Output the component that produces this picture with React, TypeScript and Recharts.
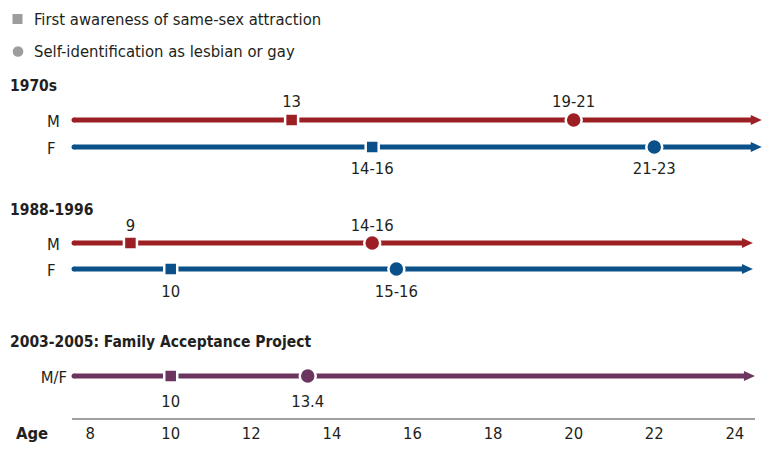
import { ScatterChart, Scatter, XAxis, YAxis } from "recharts";

// ages on the axis
const ageTicks = [8, 10, 12, 14, 16, 18, 20, 22, 24];

// one entry per timeline row
const groupTitles = ["1970s", "1988-1996", "2003-2005: Family Acceptance Project"];
const rowLabels = ["M", "F", "M", "F", "M/F"];
const awarenessAge = [13, 15, 9, 10, 10];
const awarenessLabel = ["13", "14-16", "9", "10", "10"];
const identAge = [20, 22, 15, 15.6, 13.4];
const identLabel = ["19-21", "21-23", "14-16", "15-16", "13.4"];
const timelineStart = [7.6, 7.6, 7.6, 7.6, 7.6];
const timelineEnd = [24.42, 24.42, 24.2, 24.2, 24.25];

// layout / style
const FONT = "'DejaVu Sans Condensed', 'DejaVu Sans', sans-serif";
const FS = 16.5;
const TEXT = "#231f20";
const ROW_Y = [120, 147, 243, 269, 376];
const TITLE_Y = [86, 210, 342];
const ROW_COLOR = ["#9b1f23", "#0b5089", "#9b1f23", "#0b5089", "#6b3560"];
const LABEL_DY = [-18.5, 21, -18, 22.5, 25];

const lineData = rowLabels.map((label, i) => [
    { x: timelineStart[i], y: ROW_Y[i], end: false, label, row: i },
    { x: timelineEnd[i], y: ROW_Y[i], end: true, label, row: i },
]);

const events = rowLabels.flatMap((_, i) => [
    { x: awarenessAge[i], y: ROW_Y[i], kind: "square", label: awarenessLabel[i], row: i },
    { x: identAge[i], y: ROW_Y[i], kind: "circle", label: identLabel[i], row: i },
]);

const LineEnds = (props: any) => {
    const { cx, cy, payload } = props;
    const color = ROW_COLOR[payload.row];
    if (payload.end) {
        return <path d={`M${cx - 1},${cy - 5} L${cx + 10},${cy} L${cx - 1},${cy + 5} Z`} fill={color} />;
    }
    const isBoth = payload.label === "M/F";
    return (
        <g>
            <circle cx={cx} cy={cy} r={2.5} fill={color} />
            <text
                x={isBoth ? cx - 7 : cx - 27}
                y={cy + 1}
                textAnchor={isBoth ? "end" : "start"}
                dominantBaseline="central"
                fontFamily={FONT}
                fontSize={FS}
                fill={TEXT}
            >
                {payload.label}
            </text>
        </g>
    );
};

const EventMark = (props: any) => {
    const { cx, cy, payload } = props;
    const color = ROW_COLOR[payload.row];
    return (
        <g>
            {payload.kind === "square" ? (
                <rect x={cx - 6.5} y={cy - 6.5} width={13} height={13} fill={color} stroke="#fff" strokeWidth={2.5} />
            ) : (
                <circle cx={cx} cy={cy} r={8} fill={color} stroke="#fff" strokeWidth={2.5} />
            )}
            <text
                x={cx}
                y={cy + LABEL_DY[payload.row]}
                textAnchor="middle"
                dominantBaseline="central"
                fontFamily={FONT}
                fontSize={FS}
                fill={TEXT}
            >
                {payload.label}
            </text>
        </g>
    );
};

const AgeTick = (props: any) => {
    const { x, y, payload } = props;
    return (
        <text x={x} y={y + 14.5} textAnchor="middle" dominantBaseline="central" fontFamily={FONT} fontSize={FS} fill={TEXT}>
            {payload.value}
        </text>
    );
};

export default function App() {
    return (
        <div style={{ position: "absolute", left: 0, top: 0, width: 772, height: 450, background: "#fff" }}>
            <ScatterChart width={772} height={450} margin={{ top: 0, right: 17, bottom: 0, left: 72 }}>
                <XAxis
                    type="number"
                    dataKey="x"
                    domain={[7.55, 24.5]}
                    ticks={ageTicks}
                    height={31}
                    tickLine={false}
                    tickSize={0}
                    tickMargin={0}
                    axisLine={{ stroke: "#808080", strokeWidth: 1.3 }}
                    tick={<AgeTick />}
                />
                <YAxis type="number" dataKey="y" domain={[0, 419]} reversed hide />
                {lineData.map((d, i) => (
                    <Scatter
                        key={`line-${i}`}
                        data={d}
                        fill={ROW_COLOR[i]}
                        line={{ stroke: ROW_COLOR[i], strokeWidth: 5 }}
                        shape={<LineEnds />}
                        isAnimationActive={false}
                    />
                ))}
                <Scatter data={events} shape={<EventMark />} isAnimationActive={false} />
            </ScatterChart>
            <svg width={772} height={450} style={{ position: "absolute", left: 0, top: 0, pointerEvents: "none" }}>
                <rect x={12.5} y={14} width={10} height={10} fill="#9d9d9d" />
                <circle cx={18} cy={51.5} r={5.3} fill="#9d9d9d" />
                <g fontFamily={FONT} fontSize={FS} fill={TEXT} dominantBaseline="central">
                    <text x={34} y={19}>First awareness of same-sex attraction</text>
                    <text x={34} y={51}>Self-identification as lesbian or gay</text>
                </g>
                <g fontFamily={FONT} fontSize={15.5} fontWeight="bold" fill={TEXT} dominantBaseline="central">
                    {groupTitles.map((t, i) => (
                        <text key={t} x={10} y={TITLE_Y[i]}>
                            {t}
                        </text>
                    ))}
                    <text x={16} y={433.5} fontSize={FS}>Age</text>
                </g>
            </svg>
        </div>
    );
}
